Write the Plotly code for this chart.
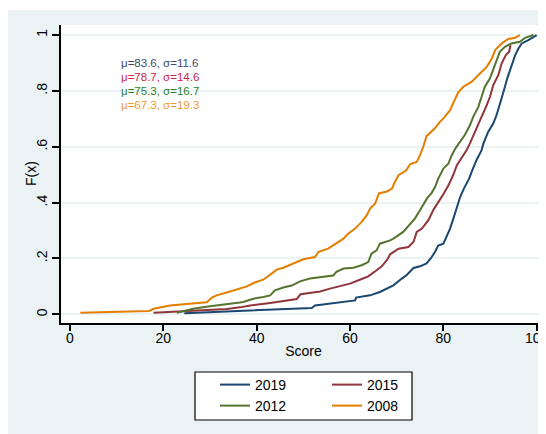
import plotly.graph_objects as go

# ---------------- data ----------------
score_2019 = [24.5, 34.3, 41.4, 48.6, 51.8, 52.5, 55.7, 60.0, 61.1, 61.3, 64.3, 66.4, 68.6, 69.3,
              71.1, 72.1, 73.6, 75.0, 76.4, 77.3, 78.2, 78.9, 80.0, 80.7, 81.4, 82.1, 82.9, 83.6,
              84.4, 85.5, 86.3, 87.1, 88.2, 88.6, 89.6, 90.7, 91.4, 92.1, 92.9, 93.7, 94.6, 95.4,
              96.1, 96.8, 98.2, 100.0]
cdf_2019 = [0.004, 0.011, 0.017, 0.020, 0.023, 0.032, 0.038, 0.046, 0.050, 0.060, 0.068, 0.080,
            0.098, 0.104, 0.128, 0.140, 0.166, 0.172, 0.182, 0.200, 0.223, 0.246, 0.253, 0.277,
            0.305, 0.340, 0.385, 0.420, 0.450, 0.485, 0.520, 0.552, 0.588, 0.612, 0.653, 0.683,
            0.713, 0.749, 0.797, 0.845, 0.892, 0.928, 0.952, 0.970, 0.982, 1.0]

score_2015 = [17.9, 22.9, 30.0, 33.6, 36.4, 38.6, 42.9, 46.4, 48.6, 49.4, 51.4, 53.6, 55.7, 57.9,
              60.0, 62.1, 63.9, 65.7, 66.8, 67.9, 68.6, 70.4, 72.5, 73.6, 74.3, 75.4, 76.8, 77.9,
              78.9, 80.0, 81.1, 82.1, 82.9, 83.6, 85.0, 85.7, 86.8, 87.5, 88.4, 89.3, 90.0, 90.7,
              91.8, 92.5, 93.4, 94.1, 94.4]
cdf_2015 = [0.006, 0.010, 0.014, 0.019, 0.025, 0.032, 0.041, 0.050, 0.055, 0.072, 0.076, 0.082,
            0.092, 0.100, 0.110, 0.124, 0.136, 0.158, 0.172, 0.194, 0.215, 0.235, 0.241, 0.259,
            0.295, 0.307, 0.337, 0.375, 0.400, 0.430, 0.462, 0.498, 0.534, 0.552, 0.588, 0.612,
            0.653, 0.683, 0.715, 0.749, 0.779, 0.821, 0.857, 0.899, 0.928, 0.940, 0.964]

score_2012 = [22.9, 26.4, 30.0, 33.6, 36.4, 37.1, 39.3, 41.4, 42.9, 43.9, 45.7, 47.5, 49.3, 51.4,
              53.6, 56.4, 57.1, 58.6, 60.7, 62.5, 63.9, 64.6, 65.7, 66.4, 68.6, 69.3, 71.4, 72.9,
              73.9, 75.0, 75.7, 76.5, 77.5, 78.2, 78.9, 80.0, 81.1, 81.8, 82.7, 83.5, 84.6, 85.7,
              86.4, 87.5, 88.2, 88.9, 90.0, 90.7, 91.4, 92.1, 93.2, 94.6, 96.4, 97.5, 99.3]
cdf_2012 = [0.006, 0.020, 0.029, 0.035, 0.042, 0.044, 0.056, 0.062, 0.068, 0.086, 0.096, 0.103,
            0.118, 0.128, 0.134, 0.139, 0.152, 0.164, 0.167, 0.176, 0.187, 0.217, 0.229, 0.253,
            0.265, 0.271, 0.295, 0.325, 0.343, 0.373, 0.391, 0.415, 0.435, 0.455, 0.485, 0.522,
            0.540, 0.570, 0.597, 0.615, 0.642, 0.677, 0.707, 0.743, 0.779, 0.815, 0.845, 0.875,
            0.910, 0.940, 0.958, 0.970, 0.976, 0.990, 1.0]

score_2008 = [2.2, 17.0, 17.9, 20.0, 21.4, 25.0, 29.3, 30.4, 31.4, 33.6, 36.4, 37.9, 39.6, 41.4,
              43.2, 44.3, 45.7, 47.1, 48.9, 50.0, 52.5, 53.2, 55.3, 57.1, 58.6, 59.6, 61.1, 62.5,
              63.6, 64.3, 65.4, 66.2, 67.9, 69.0, 69.6, 70.4, 72.0, 72.9, 74.3, 75.0, 75.7, 76.4,
              78.2, 79.3, 80.2, 81.4, 82.3, 83.2, 84.3, 86.1, 87.9, 89.3, 90.4, 91.1, 92.5, 93.9,
              95.4, 96.4]
cdf_2008 = [0.006, 0.012, 0.020, 0.026, 0.032, 0.037, 0.043, 0.060, 0.068, 0.078, 0.092, 0.100,
            0.114, 0.124, 0.146, 0.160, 0.167, 0.176, 0.190, 0.197, 0.205, 0.223, 0.235, 0.253,
            0.271, 0.289, 0.307, 0.331, 0.355, 0.379, 0.397, 0.433, 0.440, 0.450, 0.474, 0.498,
            0.515, 0.538, 0.546, 0.570, 0.600, 0.638, 0.666, 0.690, 0.705, 0.730, 0.760, 0.795,
            0.815, 0.833, 0.863, 0.886, 0.916, 0.946, 0.970, 0.986, 0.990, 1.0]

series_names = ["2019", "2015", "2012", "2008"]
series_colors = ["#1A476F", "#90353B", "#55752F", "#E37E00"]

stat_labels = ["μ=83.6, σ=11.6", "μ=78.7, σ=14.6", "μ=75.3, σ=16.7", "μ=67.3, σ=19.3"]
stat_colors = ["#3F4A6B", "#D0234E", "#2C7F2C", "#F29A2E"]
stat_y = [0.9, 0.85, 0.8, 0.75]
stat_x = 10.5

x_ticks = [0, 20, 40, 60, 80, 100]
y_ticks = [0, 0.2, 0.4, 0.6, 0.8, 1.0]
y_ticktext = ["0", ".2", ".4", ".6", ".8", "1"]
x_title = "Score"
y_title = "F(x)"

FONT = "Liberation Sans, Arial, sans-serif"
BG = "#EAF2F3"

# ---------------- figure ----------------
fig = go.Figure()
xs = [score_2019, score_2015, score_2012, score_2008]
ys = [cdf_2019, cdf_2015, cdf_2012, cdf_2008]
legends = ["legend", "legend", "legend2", "legend2"]
for name, col, x, y, lg in zip(series_names, series_colors, xs, ys, legends):
    fig.add_trace(go.Scatter(x=x, y=y, mode="lines", name=name,
                             line=dict(color=col, width=2), legend=lg))

for txt, col, yy in zip(stat_labels, stat_colors, stat_y):
    fig.add_annotation(x=stat_x, y=yy, xref="x", yref="y", text=txt, showarrow=False,
                       xanchor="left", yanchor="middle",
                       font=dict(family=FONT, size=11.5, color=col))

# the page body has an 8px margin: the figure is drawn 8px right/down of the window origin
OFF = 8
W, H = 538, 426
ML, MR, MT, MB = 53, 0, 17, 111
pw, ph = W - ML - MR, H - MT - MB


def px_x(p):
    return (p - OFF - ML) / pw


def px_y(p):
    return (H - MB - (p - OFF)) / ph


fig.add_annotation(x=px_x(31), y=0.5, xref="paper", yref="paper", text=y_title,
                   textangle=-90, showarrow=False, xanchor="center", yanchor="middle",
                   font=dict(family=FONT, size=14, color="black"))

shapes = [
    dict(type="rect", xref="paper", yref="paper", x0=px_x(8), x1=px_x(560), y0=px_y(460),
         y1=px_y(10), fillcolor=BG, line=dict(width=0), layer="below"),
    dict(type="rect", xref="paper", yref="paper", x0=0, x1=1, y0=0, y1=1,
         fillcolor="white", line=dict(width=0), layer="below"),
    dict(type="rect", xref="paper", yref="paper", x0=px_x(195), x1=px_x(412), y0=px_y(420),
         y1=px_y(372), fillcolor="white", line=dict(color="black", width=1.2), layer="below"),
]

legend_common = dict(orientation="h", xanchor="left", yanchor="middle",
                     bgcolor="rgba(0,0,0,0)", borderwidth=0, entrywidth=67,
                     entrywidthmode="pixels", font=dict(family=FONT, size=14, color="black"),
                     itemclick=False, itemdoubleclick=False)

fig.update_layout(
    width=W, height=H,
    margin=dict(l=ML, r=MR, t=MT, b=MB, pad=0, autoexpand=False),
    paper_bgcolor="white", plot_bgcolor="white",
    font=dict(family=FONT, size=14, color="black"),
    shapes=shapes,
    legend=dict(x=px_x(215), y=px_y(385), **legend_common),
    legend2=dict(x=px_x(215), y=px_y(406), **legend_common),
    xaxis=dict(range=[-1.93, 102.0], tickvals=x_ticks, showgrid=False, zeroline=False,
               showline=True, linecolor="black", linewidth=1.5, ticks="outside", ticklen=6,
               tickwidth=1.5, tickcolor="black", tickfont=dict(size=14), automargin=False,
               ticklabelstandoff=-5, ticklabeloverflow="allow",
               title=dict(text=x_title, font=dict(size=14), standoff=2)),
    yaxis=dict(range=[-0.031, 1.036], tickvals=y_ticks, ticktext=y_ticktext, tickangle=-90,
               showgrid=True, gridcolor=BG, gridwidth=2, zeroline=False, automargin=False,
               showline=True, linecolor="black", linewidth=1.5, ticks="outside", ticklen=7,
               tickwidth=1.5, tickcolor="black", tickfont=dict(size=14), ticklabelstandoff=0),
)

fig.write_html("out.html")
